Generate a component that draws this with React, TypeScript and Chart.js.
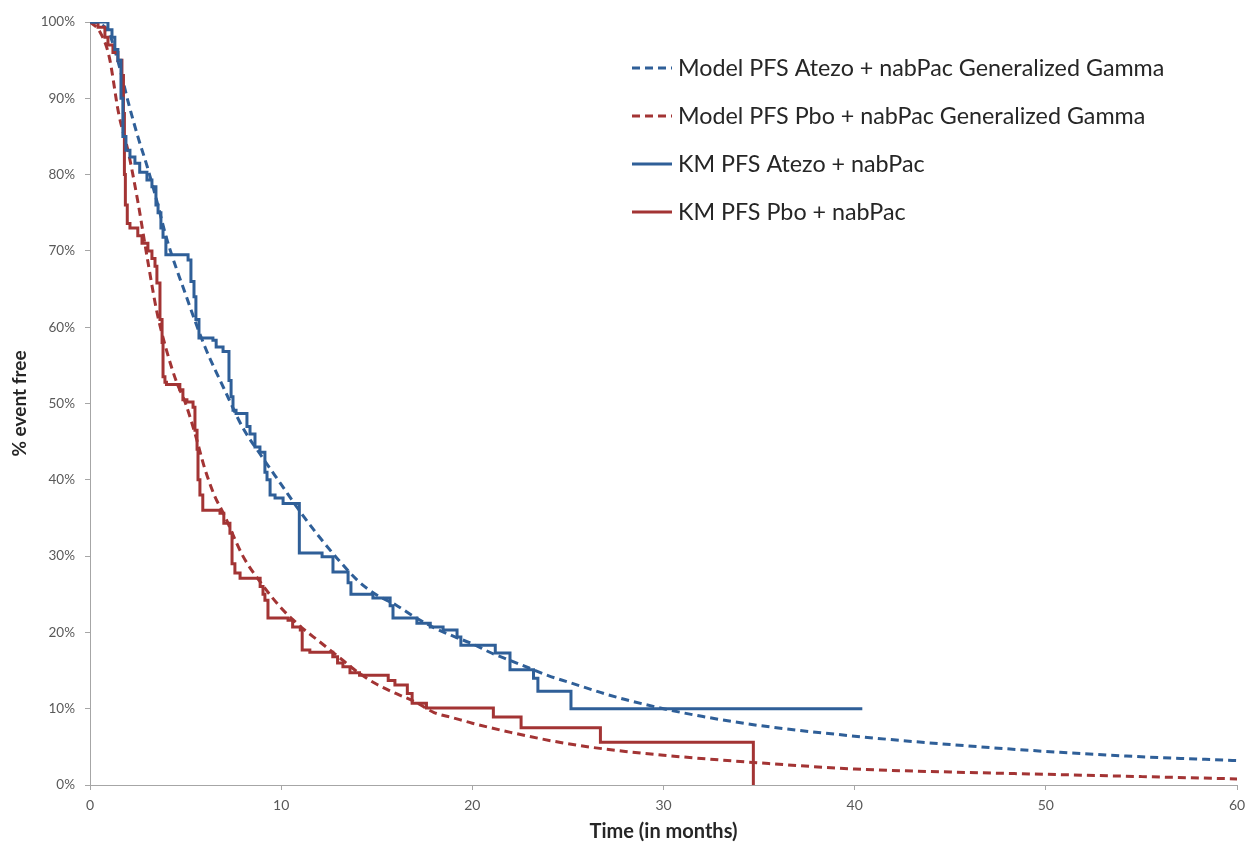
import React, { useEffect, useRef } from "react";
import { Chart, registerables } from "chart.js";
Chart.register(...registerables);

const BLUE = "#2F5F98";
const RED = "#A33434";

const xTickValues = [0, 10, 20, 30, 40, 50, 60];
const yTickValues = [0, 10, 20, 30, 40, 50, 60, 70, 80, 90, 100];

const seriesLabels = [
  "Model PFS Atezo + nabPac Generalized Gamma",
  "Model PFS Pbo + nabPac Generalized Gamma",
  "KM PFS Atezo + nabPac",
  "KM PFS Pbo + nabPac",
];

const modelAtezoTime = [0, 0.5, 1, 1.5, 2, 2.5, 3, 3.5, 4, 5, 6, 7, 8, 9, 10, 11, 12, 13, 14, 15, 16, 17, 18, 19, 20, 21, 22, 23, 24, 25, 26, 27, 28, 30, 32, 35, 40, 45, 50, 55, 60];
const modelAtezoPct = [100, 99.8, 98.5, 94.5, 89.5, 85, 81, 76.5, 71.7, 64.3, 57.5, 52, 46.8, 43, 39.4, 35.8, 32.5, 29.5, 26.8, 24.9, 23.6, 22.0, 20.6, 19.5, 18.5, 17.3, 16.3, 15.3, 14.3, 13.5, 12.7, 11.9, 11.2, 10.0, 9.0, 7.8, 6.4, 5.3, 4.4, 3.7, 3.2];

const modelPboTime = [0, 0.5, 1, 1.5, 2, 2.5, 3, 3.5, 4, 4.5, 5, 5.5, 6, 6.5, 7, 8, 9, 10, 11, 12, 13, 14, 15, 16, 17, 18, 19, 20, 22, 25, 28, 30, 35, 40, 45, 50, 55, 60];
const modelPboPct = [100, 98.8, 95.5, 88, 83, 76.5, 69, 62, 57, 53, 50, 46, 41.5, 38, 35.5, 30, 26.3, 23.2, 20.8, 18.8, 16.8, 14.8, 13.2, 12.0, 10.9, 9.5, 8.8, 8.1, 6.9, 5.4, 4.4, 3.9, 2.9, 2.1, 1.7, 1.4, 1.1, 0.8];

const kmAtezoTime = [0, 0.94, 1.15, 1.3, 1.46, 1.62, 1.72, 1.88, 2.09, 2.35, 2.6, 2.98, 3.24, 3.45, 3.56, 3.71, 3.82, 3.97, 5.13, 5.28, 5.44, 5.54, 5.7, 6.43, 6.6, 6.96, 7.27, 7.38, 7.48, 7.64, 8.21, 8.37, 8.63, 8.89, 9.15, 9.26, 9.42, 9.68, 10.1, 10.95, 12.14, 12.71, 13.5, 13.65, 14.8, 15.7, 15.85, 17.1, 17.8, 18.47, 19.2, 19.4, 21.2, 21.97, 23.2, 23.43, 25.16, 40.4];
const kmAtezoPct = [100, 99, 98, 96.4, 95, 90, 85, 83.2, 82.3, 81.5, 80.3, 79.3, 78.4, 76, 75, 73, 71.8, 69.5, 68.8, 66, 64, 61, 58.6, 58.3, 57.4, 56.8, 53, 50.9, 49.1, 48.7, 47, 46, 44.3, 43.6, 41, 40, 38, 37.6, 36.9, 30.4, 29.9, 27.9, 26.5, 25, 24.5, 23.5, 21.9, 21.2, 20.7, 20.3, 19.4, 18.3, 17.3, 15.1, 14, 12.3, 10, 10];

const kmPboTime = [0, 0.42, 0.78, 0.94, 1.2, 1.46, 1.67, 1.75, 1.8, 1.85, 1.95, 2.09, 2.5, 2.72, 3.03, 3.24, 3.4, 3.5, 3.66, 3.77, 3.82, 3.92, 4.0, 4.7, 4.86, 5.07, 5.39, 5.49, 5.6, 5.65, 5.75, 5.9, 6.8, 7.0, 7.32, 7.43, 7.58, 7.85, 8.9, 9.05, 9.15, 9.31, 10.36, 10.6, 11.0, 11.1, 11.5, 12.7, 12.95, 13.23, 13.6, 14.1, 15.6, 15.95, 16.6, 16.85, 17.6, 21.1, 22.55, 26.7, 34.7];
const kmPboPct = [100, 99.3, 98, 97, 96, 95, 93, 88, 80, 76, 73.6, 73, 72, 71, 70, 69, 68, 65.8, 61, 58, 53.5, 52.8, 52.5, 51.8, 50.5, 50.2, 49.5, 46.5, 44, 40, 38, 36, 35.6, 34.3, 33, 29, 27.8, 27.1, 26, 25, 24.2, 21.9, 21.6, 20.7, 20.3, 17.7, 17.4, 16.8, 16, 15.5, 14.7, 14.4, 13.7, 13.1, 12, 10.7, 10.1, 8.9, 7.5, 5.6, 0];

const toPoints = (t: number[], v: number[]) => t.map((x, i) => ({ x, y: v[i] }));

const FONT = "Lato, 'Open Sans', sans-serif";

const insideLegend = {
  id: "insideLegend",
  afterDraw(chart: any) {
    const { ctx } = chart;
    ctx.save();
    const x0 = 632;
    const lineLen = 40;
    const y0 = 68;
    const gap = 48;
    chart.data.datasets.forEach((ds: any, i: number) => {
      const y = y0 + i * gap;
      ctx.beginPath();
      ctx.strokeStyle = ds.borderColor;
      ctx.lineWidth = 3;
      ctx.setLineDash(ds.borderDash || []);
      ctx.moveTo(x0, y);
      ctx.lineTo(x0 + lineLen, y);
      ctx.stroke();
      ctx.setLineDash([]);
      ctx.fillStyle = "#262626";
      ctx.font = `23.3px ${FONT}`;
      ctx.textBaseline = "middle";
      ctx.textAlign = "left";
      ctx.fillText(ds.label, x0 + lineLen + 6, y);
    });
    ctx.restore();
  },
};

export default function App() {
  const ref = useRef<HTMLCanvasElement | null>(null);
  useEffect(() => {
    if (!ref.current) return;
    const chart = new Chart(ref.current, {
      type: "line",
      data: {
        datasets: [
          {
            label: seriesLabels[0],
            data: toPoints(modelAtezoTime, modelAtezoPct),
            borderColor: BLUE,
            borderWidth: 3,
            borderDash: [8, 5],
            pointRadius: 0,
            cubicInterpolationMode: "monotone",
            fill: false,
            order: 3,
          },
          {
            label: seriesLabels[1],
            data: toPoints(modelPboTime, modelPboPct),
            borderColor: RED,
            borderWidth: 3,
            borderDash: [8, 5],
            pointRadius: 0,
            cubicInterpolationMode: "monotone",
            fill: false,
            order: 4,
          },
          {
            label: seriesLabels[2],
            data: toPoints(kmAtezoTime, kmAtezoPct),
            borderColor: BLUE,
            borderWidth: 3,
            stepped: "before",
            pointRadius: 0,
            fill: false,
            order: 1,
          },
          {
            label: seriesLabels[3],
            data: toPoints(kmPboTime, kmPboPct),
            borderColor: RED,
            borderWidth: 3,
            stepped: "before",
            pointRadius: 0,
            fill: false,
            order: 2,
          },
        ],
      } as any,
      options: {
        animation: false,
        responsive: true,
        maintainAspectRatio: false,
        layout: { padding: { top: 22, right: 11, left: 0, bottom: 0 } },
        plugins: { legend: { display: false }, tooltip: { enabled: false } },
        scales: {
          x: {
            type: "linear",
            min: 0,
            max: 60,
            afterBuildTicks: (s: any) => {
              s.ticks = xTickValues.map((v) => ({ value: v }));
            },
            afterFit: (s: any) => {
              s.height = 60;
              s.paddingRight = 0;
              s.paddingLeft = 0;
            },
            grid: { drawOnChartArea: false, drawTicks: true, tickLength: 5, color: "#A6A6A6" },
            border: { color: "#A6A6A6", width: 1 },
            ticks: { color: "#595959", font: { family: FONT, size: 14 }, padding: 7, maxRotation: 0 },
            title: {
              display: true,
              text: "Time (in months)",
              color: "#262626",
              font: { family: FONT, size: 20, weight: "bold" },
              padding: { top: 0, bottom: 1 },
            },
          },
          y: {
            type: "linear",
            min: 0,
            max: 100,
            afterBuildTicks: (s: any) => {
              s.ticks = yTickValues.map((v) => ({ value: v }));
            },
            afterFit: (s: any) => {
              s.width = 90;
              s.paddingTop = 0;
              s.paddingBottom = 0;
            },
            grid: { drawOnChartArea: false, drawTicks: true, tickLength: 5, color: "#A6A6A6" },
            border: { color: "#A6A6A6", width: 1 },
            ticks: {
              color: "#595959",
              font: { family: FONT, size: 13.5 },
              padding: 10,
              callback: (v: any) => `${v}%`,
            },
            title: {
              display: true,
              text: "% event free",
              color: "#262626",
              font: { family: FONT, size: 19, weight: "bold" },
              padding: { top: 8, bottom: 0 },
            },
          },
        },
      } as any,
      plugins: [insideLegend],
    });
    return () => chart.destroy();
  }, []);
  return (
    <div style={{ position: "fixed", left: 0, top: 0, width: 1248, height: 845, background: "#fff" }}>
      <canvas ref={ref} />
    </div>
  );
}
